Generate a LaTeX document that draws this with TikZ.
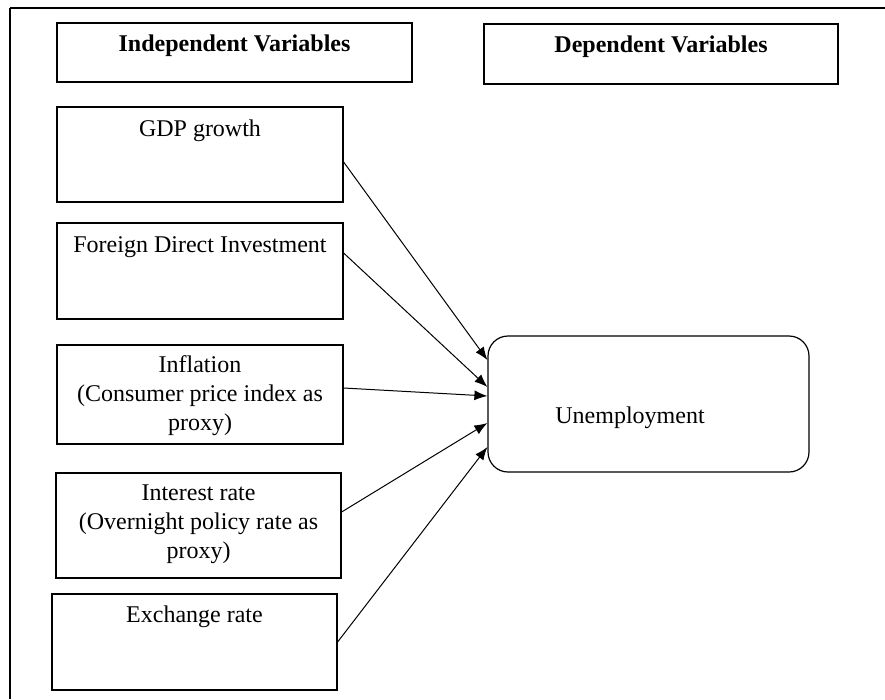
\documentclass[tikz,border=0pt]{standalone}
\usepackage{fontspec}
\setmainfont{Liberation Serif}
\usetikzlibrary{arrows.meta}
\begin{document}
\begin{tikzpicture}[x=1pt,y=-1pt,
  box/.style={draw, line width=1.2pt, inner sep=0pt, minimum width=#1},
  txt/.style={font=\fontsize{24}{29}\selectfont, align=center, inner sep=0pt},
  btxt/.style={font=\fontsize{24}{29}\selectfont\bfseries, align=center, inner sep=0pt},
  arr/.style={line width=1pt, -{Latex[length=13pt,width=10pt]}}]
\useasboundingbox (0,0) rectangle (885,699);
% frame
\coordinate (fl) at (10,699);
\coordinate (fc) at (10,8);
\coordinate (fr) at (885,8);
\draw[line width=1.3pt] (fl) -- (fc);
\draw[line width=2pt] (fc) -- (fr);
% headers
\node[box=355pt, minimum height=59pt,
  label={[btxt, name=indept, anchor=base, yshift=-29pt]north:Independent Variables}]
  (indep) at (234.5,52.5) {};
\node[box=354pt, minimum height=60pt,
  label={[btxt, name=dept, anchor=base, yshift=-29pt]north:Dependent Variables}]
  (dep) at (661,54) {};
% independent variables
\node[box=286pt, minimum height=95pt,
  label={[txt, name=gdpt, anchor=base, yshift=-30pt]north:GDP growth}]
  (gdp) at (200,154.5) {};
\node[box=286pt, minimum height=96pt,
  label={[txt, name=fdit, anchor=base, yshift=-30pt]north:Foreign Direct Investment}]
  (fdi) at (200,271) {};
\node[box=286pt, minimum height=99pt,
  label={[txt, name=inflt, anchor=base, yshift=-86pt]north:Inflation\\(Consumer price index as\\proxy)}]
  (infl) at (200,394.5) {};
\node[box=285pt, minimum height=105pt,
  label={[txt, name=intrt, anchor=base, yshift=-86pt]north:Interest rate\\(Overnight policy rate as\\proxy)}]
  (intr) at (198.5,525.5) {};
\node[box=285pt, minimum height=96pt,
  label={[txt, name=excht, anchor=base, yshift=-29pt]north:Exchange rate}]
  (exch) at (194.5,642) {};
% dependent
\node[box=321pt, minimum height=136pt, rounded corners=20pt,
  label={[txt, name=unempt, anchor=base, xshift=-18.5pt, yshift=-14pt]center:Unemployment}]
  (unemp) at (648.5,404) {};
% arrows
\draw[arr] ([yshift=-7.5pt]gdp.east) -- ([yshift=44pt]unemp.west);
\draw[arr] ([yshift=18pt]fdi.east) -- ([yshift=17pt]unemp.west);
\draw[arr] ([yshift=6.5pt]infl.east) -- ([yshift=8pt]unemp.west);
\draw[arr] ([yshift=13.5pt]intr.east) -- ([yshift=-19pt]unemp.west);
\draw[arr] (exch.east) -- ([yshift=-43pt]unemp.west);
\end{tikzpicture}
\end{document}
